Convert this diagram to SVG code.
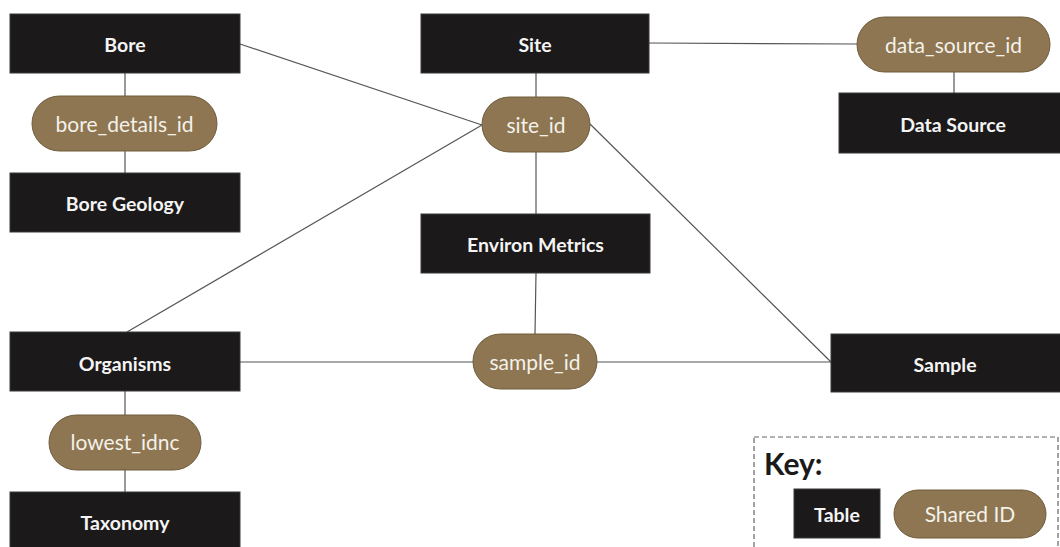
<svg xmlns="http://www.w3.org/2000/svg" width="1060" height="547" viewBox="0 0 1060 547">
<style>
.tbl{fill:#1b1919;stroke:#3a3a3a;stroke-width:1}
.pill{fill:#8d7651;stroke:#6f5c3d;stroke-width:1}
.tt{font-family:Lato,"Liberation Sans",sans-serif;font-weight:bold;font-size:19.5px;fill:#f4f4f4;text-anchor:middle;dominant-baseline:central}
.pt{font-family:Lato,"Liberation Sans",sans-serif;font-size:21px;fill:#f4f1ea;text-anchor:middle;dominant-baseline:central}
.ln{stroke:#555;stroke-width:1.2;fill:none}
</style>
<rect width="1060" height="547" fill="#fff"/>
<g id="connectors">
<line class="ln" x1="240" y1="44" x2="482" y2="125"/>
<line class="ln" x1="127" y1="332" x2="482" y2="125"/>
<line class="ln" x1="536" y1="73" x2="536" y2="97"/>
<line class="ln" x1="536" y1="152" x2="536" y2="214"/>
<line class="ln" x1="536" y1="273" x2="535" y2="334"/>
<line class="ln" x1="240" y1="362" x2="473" y2="362"/>
<line class="ln" x1="597" y1="362" x2="831" y2="362"/>
<line class="ln" x1="590" y1="124" x2="831" y2="362"/>
<line class="ln" x1="649" y1="43" x2="857" y2="44"/>
<line class="ln" x1="954" y1="72" x2="954" y2="93"/>
<line class="ln" x1="125" y1="73" x2="125" y2="96"/>
<line class="ln" x1="125" y1="151" x2="125" y2="173"/>
<line class="ln" x1="125" y1="391" x2="125" y2="415"/>
<line class="ln" x1="125" y1="470" x2="125" y2="492"/>
</g>
<g id="bore"><rect class="tbl" x="10" y="14" width="230" height="59"/><text class="tt" x="125" y="44">Bore</text></g>
<g id="bore_details_id"><rect class="pill" x="32" y="96" width="185" height="55" rx="27.5"/><text class="pt" x="124.5" y="123">bore_details_id</text></g>
<g id="bore_geology"><rect class="tbl" x="10" y="173" width="230" height="59"/><text class="tt" x="125" y="203">Bore Geology</text></g>
<g id="site"><rect class="tbl" x="421" y="14" width="228" height="59"/><text class="tt" x="535" y="44">Site</text></g>
<g id="site_id"><rect class="pill" x="482" y="97" width="108" height="55" rx="27.5"/><text class="pt" x="536" y="124">site_id</text></g>
<g id="environ_metrics"><rect class="tbl" x="421" y="214" width="229" height="59"/><text class="tt" x="535.5" y="244">Environ Metrics</text></g>
<g id="data_source_id"><rect class="pill" x="857" y="17" width="193" height="55" rx="27.5"/><text class="pt" x="953.5" y="44">data_source_id</text></g>
<g id="data_source"><rect class="tbl" x="839" y="93" width="230" height="60"/><text class="tt" x="953" y="124">Data Source</text></g>
<g id="organisms"><rect class="tbl" x="10" y="332" width="230" height="59"/><text class="tt" x="125" y="363">Organisms</text></g>
<g id="lowest_idnc"><rect class="pill" x="49" y="415" width="152" height="55" rx="27.5"/><text class="pt" x="125" y="441">lowest_idnc</text></g>
<g id="taxonomy"><rect class="tbl" x="10" y="492" width="230" height="60"/><text class="tt" x="125" y="522">Taxonomy</text></g>
<g id="sample_id"><rect class="pill" x="473" y="334" width="124" height="55" rx="27.5"/><text class="pt" x="535" y="361">sample_id</text></g>
<g id="sample"><rect class="tbl" x="831" y="334" width="235" height="58"/><text class="tt" x="945" y="364">Sample</text></g>
<g id="key">
<rect x="754" y="437" width="304" height="115" fill="none" stroke="#666" stroke-width="1.2" stroke-dasharray="5,3"/>
<text x="764" y="475" font-family="Lato,'Liberation Sans',sans-serif" font-weight="bold" font-size="30" fill="#1b1919">Key:</text>
<rect class="tbl" x="794" y="489" width="86" height="49"/><text class="tt" x="837" y="514">Table</text>
<rect class="pill" x="894" y="490" width="152" height="48" rx="24"/><text class="pt" x="970" y="513">Shared ID</text>
</g>
</svg>
